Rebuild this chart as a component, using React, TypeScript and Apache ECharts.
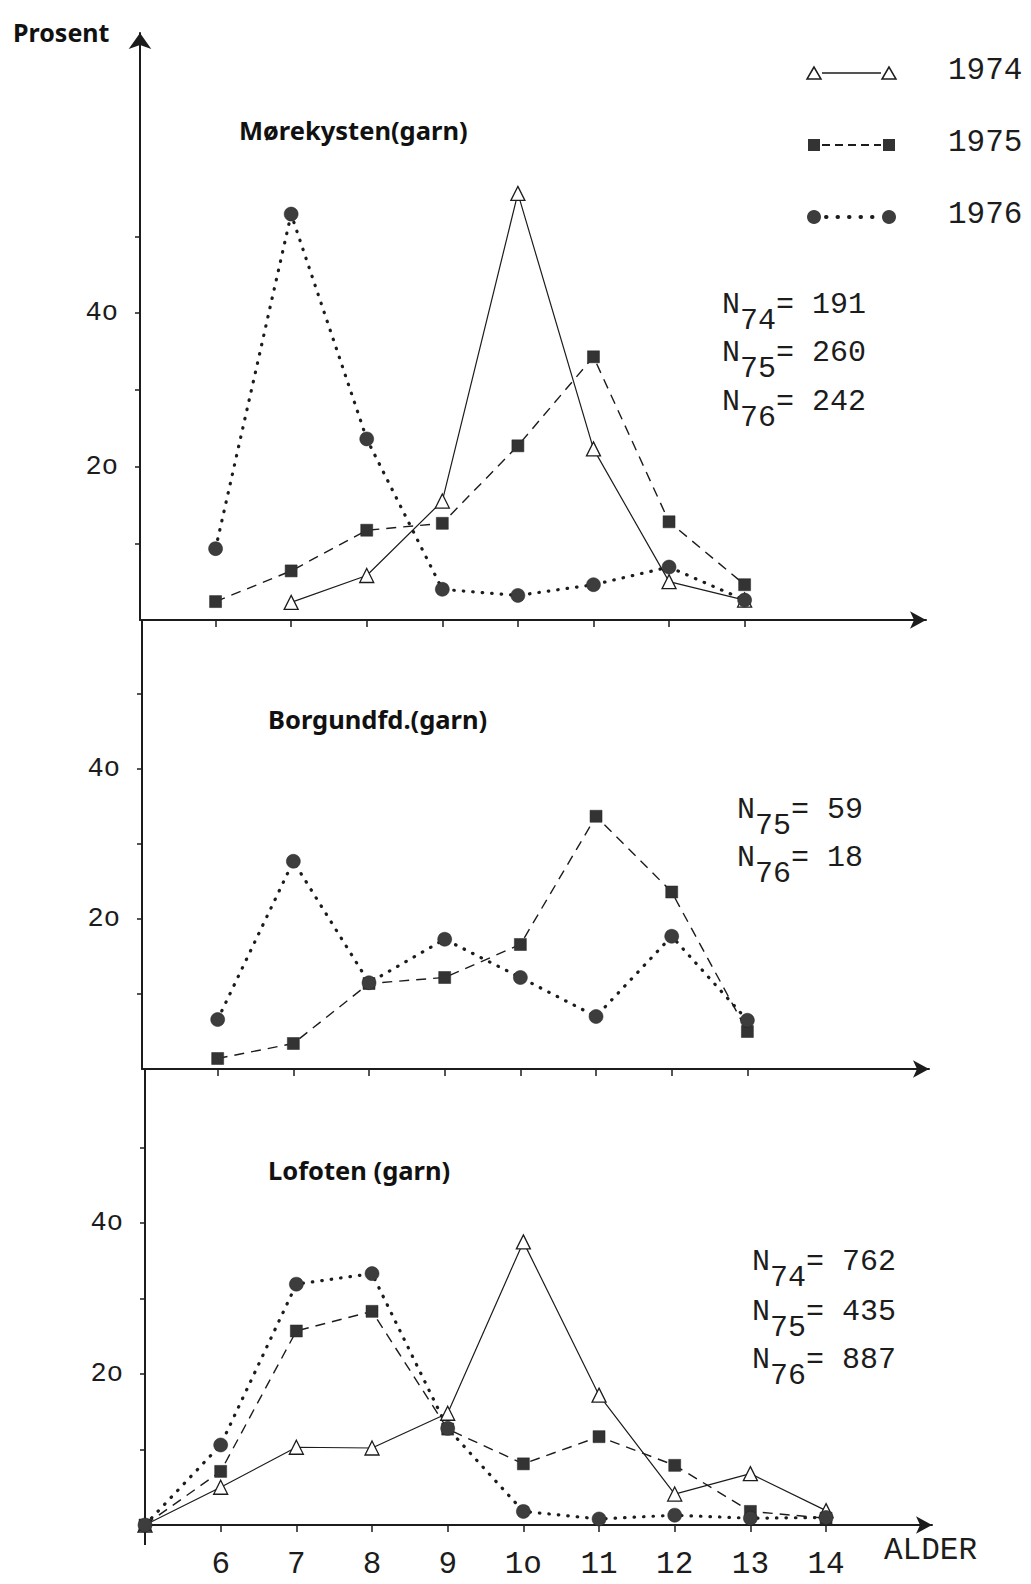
import React, { useEffect, useRef } from "react";
import * as echarts from "echarts";

// ---- data (percent by age) ----
const ages6to13 = [6, 7, 8, 9, 10, 11, 12, 13];
const ages7to13 = [7, 8, 9, 10, 11, 12, 13];
const ages5to14 = [5, 6, 7, 8, 9, 10, 11, 12, 13, 14];

const more1974 = [2.3, 5.8, 15.5, 55.6, 22.3, 5.0, 2.6];
const more1975 = [2.4, 6.4, 11.7, 12.6, 22.7, 34.3, 12.8, 4.6];
const more1976 = [9.3, 52.9, 23.6, 4.0, 3.2, 4.6, 6.9, 2.6];

const borg1975 = [1.4, 3.4, 11.4, 12.2, 16.6, 33.7, 23.6, 5.0];
const borg1976 = [6.6, 27.7, 11.5, 17.3, 12.2, 7.0, 17.7, 6.5];

const lof1974 = [0, 5.0, 10.3, 10.2, 14.8, 37.5, 17.2, 4.1, 6.8, 1.9];
const lof1975 = [0, 7.1, 25.7, 28.3, 12.7, 8.1, 11.7, 7.9, 1.8, 0.9];
const lof1976 = [0, 10.6, 31.9, 33.3, 12.8, 1.8, 0.8, 1.3, 0.9, 1.0];

const yTickValues = [10, 20, 30, 40, 50];
const yLabelValues = [20, 40];
const yLabelText: Record<number, string> = { 20: "2o", 40: "4o" };
const xTickShort = [6, 7, 8, 9, 10, 11, 12, 13];
const xTickLong = [6, 7, 8, 9, 10, 11, 12, 13, 14];
const xLabelText: Record<number, string> = { 10: "1o" };

const panelTitles = ["Mørekysten(garn)", "Borgundfd.(garn)", "Lofoten (garn)"];
const nTop = [["74", "191"], ["75", "260"], ["76", "242"]];
const nMid = [["75", "59"], ["76", "18"]];
const nBot = [["74", "762"], ["75", "435"], ["76", "887"]];
const legendYears = ["1974", "1975", "1976"];

const INK = "#1c1c1c";
const MONO = "'Liberation Mono', 'DejaVu Sans Mono', monospace";
const SANS = "'Noto Sans', 'Open Sans', sans-serif";

const pair = (xs: number[], ys: number[]) => xs.map((x, i) => [x, ys[i]]);

const style1974 = {
  symbol: "triangle",
  symbolSize: 14,
  itemStyle: { color: "#ffffff", borderColor: INK, borderWidth: 1.3 },
  lineStyle: { color: INK, width: 1.2, type: "solid" as const },
};
const style1975 = {
  symbol: "rect",
  symbolSize: 12,
  itemStyle: { color: "#333333", borderColor: "#222", borderWidth: 0.5 },
  lineStyle: { color: INK, width: 1.4, type: [10, 7] as any },
};
const style1976 = {
  symbol: "circle",
  symbolSize: 14,
  itemStyle: { color: "#3d3d3d", borderColor: "#222", borderWidth: 0.5 },
  lineStyle: { color: INK, width: 3.2, type: [0.5, 9] as any, cap: "round" as const },
};

function mkSeries(name: string, st: any, data: number[][], idx: number) {
  return {
    type: "line",
    name,
    xAxisIndex: idx,
    yAxisIndex: idx,
    data,
    symbol: st.symbol,
    symbolSize: st.symbolSize,
    itemStyle: st.itemStyle,
    lineStyle: st.lineStyle,
    showAllSymbol: true,
    silent: true,
    z: 3,
  };
}

function nTexts(rows: string[][], x: number, ys: number[]) {
  return rows.map((r, i) => ({
    type: "text",
    left: x,
    top: ys[i] - 13,
    style: {
      text: `{n|N}{s|${r[0]}}{n|= ${r[1]}}`,
      rich: {
        n: { fontFamily: MONO, fontSize: 30, fill: INK, verticalAlign: "top", lineHeight: 46 },
        s: { fontFamily: MONO, fontSize: 30, fill: INK, verticalAlign: "bottom", lineHeight: 46 },
      },
    },
  }));
}

export default function App() {
  const ref = useRef<HTMLDivElement>(null);
  useEffect(() => {
    document.body.style.margin = "0";
    document.body.style.background = "#ffffff";
    const chart = echarts.init(ref.current!, undefined, { renderer: "svg" });

    const grids = [
      { left: 140, width: 786, top: 33, height: 587 },
      { left: 142, width: 787, top: 620, height: 449 },
      { left: 145, width: 787, top: 1069, height: 456 },
    ];
    const yMax = [76.5, 59.87, 60.4];

    const xAxes = grids.map((_, i) => ({
      type: "value",
      gridIndex: i,
      min: 5,
      max: 15.4,
      axisLine: {
        show: true,
        onZero: false,
        symbol: ["none", "arrow"],
        symbolSize: [13, 16],
        lineStyle: { color: INK, width: 2 },
      },
      axisTick: {
        show: true,
        customValues: i === 2 ? xTickLong : xTickShort,
        length: 7,
        lineStyle: { color: INK, width: 1.5 },
      },
      axisLabel: {
        show: i === 2,
        customValues: xTickLong,
        formatter: (v: number) => xLabelText[v] ?? String(v),
        fontFamily: MONO,
        fontSize: 31,
        color: INK,
        margin: 24,
      },
      splitLine: { show: false },
    }));

    const yAxes = grids.map((_, i) => ({
      type: "value",
      gridIndex: i,
      min: 0,
      max: yMax[i],
      axisLine: {
        show: true,
        onZero: false,
        symbol: i === 0 ? ["none", "arrow"] : ["none", "none"],
        symbolSize: [17, 16],
        lineStyle: { color: INK, width: 2 },
      },
      axisTick: {
        show: true,
        customValues: yTickValues,
        length: 5,
        lineStyle: { color: INK, width: 1.5 },
      },
      axisLabel: {
        show: true,
        customValues: yLabelValues,
        formatter: (v: number) => yLabelText[v] ?? String(v),
        fontFamily: MONO,
        fontSize: 27,
        color: INK,
        margin: 22,
      },
      splitLine: { show: false },
    }));

    const series = [
      mkSeries("1974", style1974, pair(ages7to13, more1974), 0),
      mkSeries("1975", style1975, pair(ages6to13, more1975), 0),
      mkSeries("1976", style1976, pair(ages6to13, more1976), 0),
      mkSeries("1975", style1975, pair(ages6to13, borg1975), 1),
      mkSeries("1976", style1976, pair(ages6to13, borg1976), 1),
      mkSeries("1974", style1974, pair(ages5to14, lof1974), 2),
      mkSeries("1975", style1975, pair(ages5to14, lof1975), 2),
      mkSeries("1976", style1976, pair(ages5to14, lof1976), 2),
    ];

    const legendRows = [73, 145, 217];
    const lx1 = 814;
    const lx2 = 889;
    const legendGraphics: any[] = [];
    legendRows.forEach((y, i) => {
      if (i === 0) {
        legendGraphics.push({
          type: "line",
          shape: { x1: lx1 + 8, y1: y, x2: lx2 - 8, y2: y },
          style: { stroke: INK, lineWidth: 1.3 },
        });
        [lx1, lx2].forEach((x) =>
          legendGraphics.push({
            type: "polygon",
            shape: { points: [[x, y - 6], [x - 7, y + 6], [x + 7, y + 6]] },
            style: { fill: "#fff", stroke: INK, lineWidth: 1.5 },
          })
        );
      } else if (i === 1) {
        legendGraphics.push({
          type: "line",
          shape: { x1: lx1 + 8, y1: y, x2: lx2 - 8, y2: y },
          style: { stroke: INK, lineWidth: 1.8, lineDash: [8, 5] },
        });
        [lx1, lx2].forEach((x) =>
          legendGraphics.push({
            type: "rect",
            shape: { x: x - 6, y: y - 6, width: 12, height: 12 },
            style: { fill: "#333" },
          })
        );
      } else {
        legendGraphics.push({
          type: "line",
          shape: { x1: lx1 + 12, y1: y, x2: lx2 - 10, y2: y },
          style: { stroke: INK, lineWidth: 4, lineDash: [0.5, 11], lineCap: "round" },
        });
        [lx1, lx2].forEach((x) =>
          legendGraphics.push({
            type: "circle",
            shape: { cx: x, cy: y, r: 7 },
            style: { fill: "#3d3d3d" },
          })
        );
      }
      legendGraphics.push({
        type: "text",
        left: 948,
        top: y - 18,
        style: { text: legendYears[i], fontFamily: MONO, fontSize: 31, fill: INK },
      });
    });

    const titleY = [135, 724, 1175];
    const titleX = [239, 268, 268];

    const graphic: any[] = [
      {
        type: "text",
        left: 13,
        top: 19,
        style: { text: "Prosent", fontFamily: SANS, fontWeight: "bold", fontSize: 25, fill: "#111" },
      },
      ...panelTitles.map((t, i) => ({
        type: "text",
        left: titleX[i],
        top: titleY[i] - 18,
        style: { text: t, fontFamily: SANS, fontWeight: "bold", fontSize: 25.5, fill: "#111" },
      })),
      {
        type: "text",
        left: 884,
        top: 1535,
        style: { text: "ALDER", fontFamily: MONO, fontSize: 31, fill: INK },
      },
      {
        type: "line",
        shape: { x1: 145, y1: 1525, x2: 145, y2: 1545 },
        style: { stroke: INK, lineWidth: 2 },
      },
      ...nTexts(nTop, 722, [303, 351, 400]),
      ...nTexts(nMid, 737, [808, 856]),
      ...nTexts(nBot, 752, [1260, 1310, 1358]),
      ...legendGraphics,
    ];

    chart.setOption({
      animation: false,
      backgroundColor: "#ffffff",
      grid: grids,
      xAxis: xAxes,
      yAxis: yAxes,
      series,
      graphic,
    });
    return () => chart.dispose();
  }, []);
  return <div ref={ref} style={{ width: 1031, height: 1584 }} />;
}
